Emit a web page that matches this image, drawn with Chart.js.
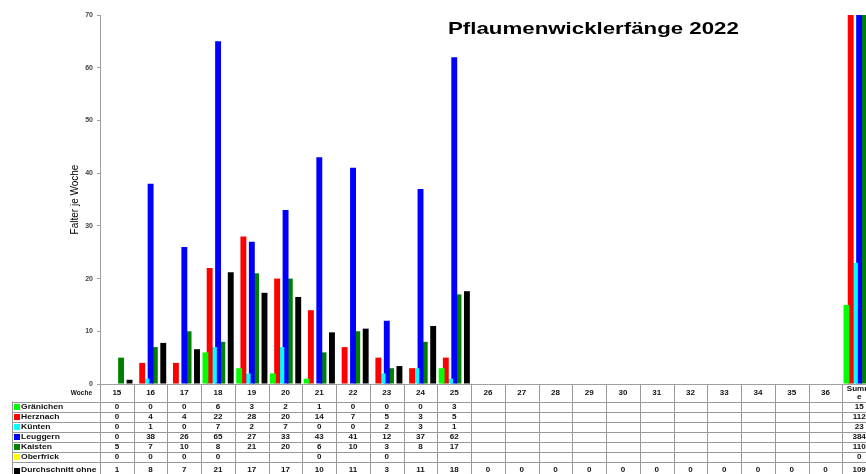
<!DOCTYPE html>
<html lang="de">

<head>
    <meta charset="UTF-8">
    <meta name="viewport" content="width=device-width, initial-scale=1.0">
    <title>Pflaumenwicklerfänge 2022</title>
    <style>
        body { margin: 0; overflow: hidden; background: #fff; }
        #wrap { width: 876px; height: 474px; }
    </style>
</head>

<body>
    <div id="wrap">
        <canvas id="myChart" width="876" height="474"></canvas>
    </div>

    <script src="https://cdn.jsdelivr.net/npm/chart.js"></script>

    <script>
        // Wochen (Kategorien)
        let v_weeks = ['15', '16', '17', '18', '19', '20', '21', '22', '23', '24', '25', '26',
            '27', '28', '29', '30', '31', '32', '33', '34', '35', '36', 'Summe'];

        let v_graenichen = [0, 0, 0, 6, 3, 2, 1, 0, 0, 0, 3, null, null, null, null, null, null, null, null, null, null, null, 15];
        let v_herznach = [0, 4, 4, 22, 28, 20, 14, 7, 5, 3, 5, null, null, null, null, null, null, null, null, null, null, null, 112];
        let v_kuenten = [0, 1, 0, 7, 2, 7, 0, 0, 2, 3, 1, null, null, null, null, null, null, null, null, null, null, null, 23];
        let v_leuggern = [0, 38, 26, 65, 27, 33, 43, 41, 12, 37, 62, null, null, null, null, null, null, null, null, null, null, null, 384];
        let v_kaisten = [5, 7, 10, 8, 21, 20, 6, 10, 3, 8, 17, null, null, null, null, null, null, null, null, null, null, null, 110];
        let v_oberfrick = [0, 0, 0, 0, null, null, 0, null, 0, null, null, null, null, null, null, null, null, null, null, null, null, null, 0];
        let v_durchschnitt = [0.8, 7.8, 6.6, 21.2, 17.3, 16.5, 9.8, 10.5, 3.4, 11, 17.6, 0, 0, 0, 0, 0, 0, 0, 0, 0, 0, 0, 109];

        let v_yTicks = [0, 10, 20, 30, 40, 50, 60, 70];

        let v_series = [
            { label: 'Gränichen', data: v_graenichen, color: '#00ff00' },
            { label: 'Herznach', data: v_herznach, color: '#ff0000' },
            { label: 'Künten', data: v_kuenten, color: '#00ffff' },
            { label: 'Leuggern', data: v_leuggern, color: '#0000ff' },
            { label: 'Kaisten', data: v_kaisten, color: '#008000' },
            { label: 'Oberfrick', data: v_oberfrick, color: '#ffff00' },
            { label: 'Durchschnitt ohne Neuanlagen', data: v_durchschnitt, color: '#000000', rounded: true }
        ];

        const FONT = '"Liberation Sans", Arial, sans-serif';

        // text etwas in die Breite gezogen, wie im Original
        function wideText(ctx, text, x, y, sx, align) {
            ctx.save();
            ctx.translate(x, y);
            ctx.scale(sx, 1);
            ctx.textAlign = align || 'center';
            ctx.fillText(text, 0, 0);
            ctx.restore();
        }

        function wrapChars(ctx, text, maxW, sx) {
            let lines = [];
            let cur = '';
            for (let i = 0; i < text.length; i++) {
                let test = cur + text[i];
                if (cur && ctx.measureText(test).width * sx > maxW) {
                    lines.push(cur);
                    cur = text[i];
                } else {
                    cur = test;
                }
            }
            lines.push(cur);
            return lines;
        }

        function wrapWords(ctx, text, maxW, sx) {
            let words = text.split(' ');
            let lines = [];
            let cur = '';
            for (let i = 0; i < words.length; i++) {
                let test = cur ? cur + ' ' + words[i] : words[i];
                if (cur && ctx.measureText(test).width * sx > maxW) {
                    lines.push(cur);
                    cur = words[i];
                } else {
                    cur = test;
                }
            }
            lines.push(cur);
            return lines;
        }

        // Datentabelle + Titel unter / im Diagramm
        const tablePlugin = {
            id: 'dataTable',
            afterDraw(chart) {
                let ctx = chart.ctx;
                let area = chart.chartArea;
                let xs = chart.scales.x;
                let n = v_weeks.length;
                let colW = (area.right - area.left) / n;
                let headTop = area.bottom;
                let rowTop = area.bottom + 17.5;
                let rowH = 10;
                let legLeft = 12;
                let bottom = rowTop + 6 * rowH + 20;

                ctx.save();
                // Linien
                ctx.strokeStyle = '#999';
                ctx.lineWidth = 1;
                ctx.beginPath();
                for (let i = 0; i <= n; i++) {
                    let x = Math.round(area.left + i * colW) + 0.5;
                    ctx.moveTo(x, headTop);
                    ctx.lineTo(x, bottom);
                }
                ctx.moveTo(legLeft + 0.5, rowTop);
                ctx.lineTo(legLeft + 0.5, bottom);
                for (let r = 0; r <= 6; r++) {
                    let y = Math.round(rowTop + r * rowH) + 0.5;
                    ctx.moveTo(legLeft, y);
                    ctx.lineTo(area.right, y);
                }
                ctx.moveTo(legLeft, Math.round(bottom) + 0.5);
                ctx.lineTo(area.right, Math.round(bottom) + 0.5);
                ctx.stroke();

                ctx.fillStyle = '#111';
                ctx.textBaseline = 'middle';

                // Kopfzeile
                ctx.font = 'bold 6.5px ' + FONT;
                wideText(ctx, 'Woche', area.left - 8, headTop + 9.5, 1.0, 'right');
                ctx.font = 'bold 7px ' + FONT;
                for (let i = 0; i < n; i++) {
                    let cx = xs.getPixelForValue(i);
                    let lines = wrapChars(ctx, v_weeks[i], colW * 0.8, 1.15);
                    if (lines.length == 1) {
                        wideText(ctx, lines[0], cx, headTop + 9.5, 1.15);
                    } else {
                        wideText(ctx, lines[0], cx, headTop + 5, 1.15);
                        wideText(ctx, lines[1], cx, headTop + 13.5, 1.15);
                    }
                }

                // Zeilen
                for (let r = 0; r < v_series.length; r++) {
                    let s = v_series[r];
                    let top = rowTop + r * rowH;
                    let cy = r < 6 ? top + rowH / 2 + 0.5 : top + 9;

                    ctx.fillStyle = s.color;
                    ctx.fillRect(14, Math.round(cy) - 3, 6, 6);
                    ctx.fillStyle = '#111';
                    ctx.font = 'bold 7px ' + FONT;
                    let lab = wrapWords(ctx, s.label, 82, 1.22);
                    wideText(ctx, lab[0], 21, cy, 1.22, 'left');
                    if (lab.length > 1) {
                        wideText(ctx, lab.slice(1).join(' '), 56, cy + 9, 1.22, 'center');
                    }

                    for (let i = 0; i < n; i++) {
                        let v = s.data[i];
                        if (v === null) continue;
                        let txt = s.rounded ? String(Math.round(v)) : String(v);
                        wideText(ctx, txt, xs.getPixelForValue(i), cy, 1.15);
                    }
                }

                // Titel
                ctx.fillStyle = '#000';
                ctx.textBaseline = 'alphabetic';
                ctx.font = 'bold 17px ' + FONT;
                wideText(ctx, 'Pflaumenwicklerfänge 2022', 448, 34, 1.31, 'left');
                ctx.restore();
            }
        };

        let ctx = document.getElementById('myChart');

        new Chart(ctx, {
            type: 'bar',
            data: {
                labels: v_weeks,
                datasets: v_series.map(s => ({
                    label: s.label,
                    data: s.data,
                    backgroundColor: s.color,
                    borderWidth: 0
                }))
            },
            options: {
                responsive: false,
                animation: false,
                datasets: {
                    bar: {
                        categoryPercentage: 0.875,
                        barPercentage: 1.4
                    }
                },
                layout: {
                    padding: { top: 15, left: 0, right: 0, bottom: 0 }
                },
                plugins: {
                    legend: { display: false },
                    tooltip: { enabled: false }
                },
                scales: {
                    x: {
                        grid: { display: false },
                        ticks: { display: false },
                        border: { color: '#a0a0a0' },
                        afterFit(scale) { scale.height = 90; }
                    },
                    y: {
                        min: 0,
                        max: 70,
                        afterBuildTicks(scale) {
                            scale.ticks = v_yTicks.map(v => ({ value: v }));
                        },
                        ticks: {
                            padding: 4,
                            color: '#444',
                            font: { family: FONT, size: 7, weight: 'bold' }
                        },
                        grid: {
                            drawOnChartArea: false,
                            tickLength: 3,
                            color: '#a0a0a0'
                        },
                        border: { color: '#a0a0a0' },
                        title: {
                            display: true,
                            text: 'Falter je Woche',
                            color: '#000',
                            font: { family: FONT, size: 10 },
                            padding: { top: 69, bottom: 0 }
                        },
                        afterFit(scale) { scale.width = 100; }
                    }
                }
            },
            plugins: [tablePlugin]
        });
    </script>
</body>

</html>
